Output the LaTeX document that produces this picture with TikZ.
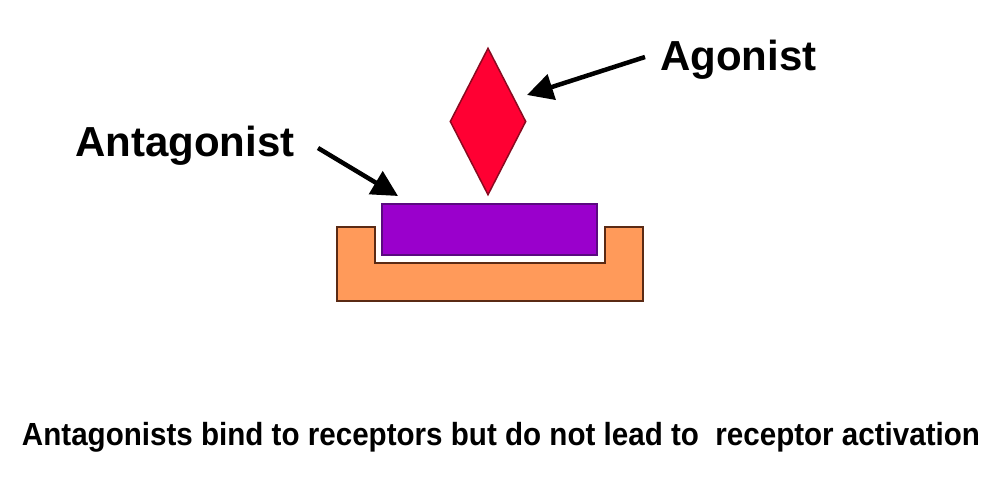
\documentclass[tikz,border=0pt]{standalone}
\usepackage{fontspec}
\setmainfont{Liberation Sans}
\usetikzlibrary{shapes.geometric,arrows.meta}
\definecolor{recfill}{HTML}{FF9A5A}
\definecolor{recline}{HTML}{5A2A14}
\definecolor{antfill}{HTML}{9A00CC}
\definecolor{antline}{HTML}{5A0A80}
\definecolor{agfill}{HTML}{FF0033}
\definecolor{agline}{HTML}{8A0A20}
\tikzset{
  arr/.style={line width=4.5pt,-{Triangle[length=26pt,width=26pt]}},
  lbl/.style={font=\fontsize{42}{46}\selectfont\bfseries,inner sep=0pt,anchor=west},
}
\begin{document}
\begin{tikzpicture}[x=1pt,y=-1pt]
\useasboundingbox (0,0) rectangle (1000,484);
% receptor
\draw[fill=recfill,draw=recline,line width=2.5pt]
  (337,227) -- (375,227) -- (375,263) -- (605,263) -- (605,227) -- (643,227)
  -- (643,301) -- (337,301) -- cycle;
\coordinate (receptor) at (490,285);
% antagonist
\node[rectangle,fill=antfill,draw=antline,line width=2.5pt,minimum width=215pt,minimum height=51pt,inner sep=0pt] (ant) at (489.5,229.5) {};
% agonist
\node[diamond,fill=agfill,draw=agline,line width=1.5pt,minimum width=76pt,minimum height=147pt,inner sep=0pt] (ago) at (488,121.5) {};
% labels
\node[lbl] (agtxt) at (660,60) {Agonist};
\node[lbl] (anttxt) at (75,146) {Antagonist};
\coordinate (agtip) at (527,95);
\coordinate (anttip) at (398,196);
\coordinate (agstart) at (645,57);
\coordinate (antstart) at (318,148);
\draw[arr] (agstart) -- (agtip);
\draw[arr] (antstart) -- (anttip);
% caption
\node[inner sep=0pt] (cap) at (501,437) {\resizebox{958pt}{\height}{\fontsize{32}{36}\selectfont\bfseries Antagonists bind to receptors but do not lead to\ \ receptor activation}};
\end{tikzpicture}
\end{document}
